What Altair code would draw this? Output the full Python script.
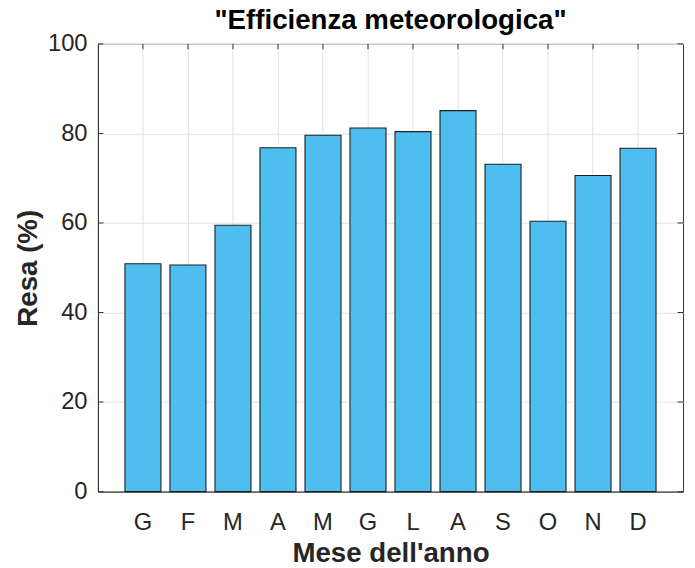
import altair as alt
import pandas as pd

months = ["Gen", "Feb", "Mar", "Apr", "Mag", "Giu", "Lug", "Ago", "Set", "Ott", "Nov", "Dic"]
letters = ["G", "F", "M", "A", "M", "G", "L", "A", "S", "O", "N", "D"]
resa = [50.9, 50.6, 59.5, 76.8, 79.6, 81.2, 80.4, 85.1, 73.1, 60.4, 70.6, 76.7]
y_ticks = [0, 20, 40, 60, 80, 100]

df = pd.DataFrame({"mese": months, "resa": resa})
df_months = pd.DataFrame({"mese": months})
df_yt = pd.DataFrame({"resa": y_ticks})

label_map = "{" + ",".join(f"'{m}':'{l}'" for m, l in zip(months, letters)) + "}"
label_expr = f"{label_map}[datum.value]"

FONT = "Liberation Sans"
AX = "#333333"
GRID = "#e2e2e2"
W, H = 592, 453
TICK = 5.5

x_axis = alt.Axis(
    title="Mese dell'anno",
    labelAngle=0,
    labelAlign="center",
    labelBaseline="top",
    labelExpr=label_expr,
    labelFont=FONT, labelFontSize=24, labelColor="#262626",
    labelPadding=19,
    ticks=False,
    grid=True, gridColor=GRID, gridWidth=1,
    domainColor=AX, domainWidth=1,
    titleFont=FONT, titleFontSize=28, titleFontWeight="bold", titleColor="#262626",
    titleBaseline="alphabetic", titleY=71,
)
y_axis = alt.Axis(
    values=y_ticks,
    title="Resa (%)",
    labelFont=FONT, labelFontSize=24, labelColor="#262626",
    labelPadding=11,
    labelAlign="right",
    labelBaseline="middle",
    ticks=False,
    grid=True, gridColor=GRID, gridWidth=1,
    domainColor=AX, domainWidth=1,
    titleFont=FONT, titleFontSize=28, titleFontWeight="bold", titleColor="#262626",
    titleAngle=270, titleBaseline="middle", titleAlign="center",
    titleX=-70, titleY=H / 2,
)

x_enc = alt.X("mese:N", sort=months,
              scale=alt.Scale(paddingInner=0.2, paddingOuter=0.6), axis=x_axis)
y_enc = alt.Y("resa:Q", scale=alt.Scale(domain=[0, 100], nice=False), axis=y_axis)

bars = alt.Chart(df).mark_bar(
    color="#4DBEEE", stroke="#1f1f1f", strokeWidth=1.1
).encode(x=x_enc, y=y_enc)

# inward tick marks on all four sides (MATLAB box style)
x_plain = alt.X("mese:N", sort=months, axis=x_axis)
xt_bottom = alt.Chart(df_months).mark_rule(color=AX, strokeWidth=1).encode(
    x=x_plain,
    y=alt.datum(0),
    y2=alt.datum(TICK / H * 100),
)
xt_top = alt.Chart(df_months).mark_rule(color=AX, strokeWidth=1).encode(
    x=x_plain,
    y=alt.datum(100),
    y2=alt.datum(100 - TICK / H * 100),
)
yt_left = alt.Chart(df_yt).mark_rule(color=AX, strokeWidth=1).encode(
    y=alt.Y("resa:Q", axis=y_axis),
    x=alt.value(0),
    x2=alt.value(TICK),
)
yt_right = alt.Chart(df_yt).mark_rule(color=AX, strokeWidth=1).encode(
    y=alt.Y("resa:Q", axis=y_axis),
    x=alt.value(W - TICK),
    x2=alt.value(W),
)

chart = alt.layer(xt_bottom, xt_top, yt_left, yt_right, bars).properties(
    width=W,
    height=H,
    title=alt.TitleParams(
        text="\"Efficienza meteorologica\"",
        font=FONT, fontSize=28, fontWeight="bold", color="#000000",
        anchor="middle", baseline="alphabetic", offset=1, dy=26,
    ),
    autosize=alt.AutoSizeParams(type="none"),
    padding={"left": 91, "top": 33, "right": 4, "bottom": 74},
).configure_view(
    stroke=AX, strokeWidth=1
)

chart.save("out.html", embed_options={"renderer": "svg", "actions": False})
